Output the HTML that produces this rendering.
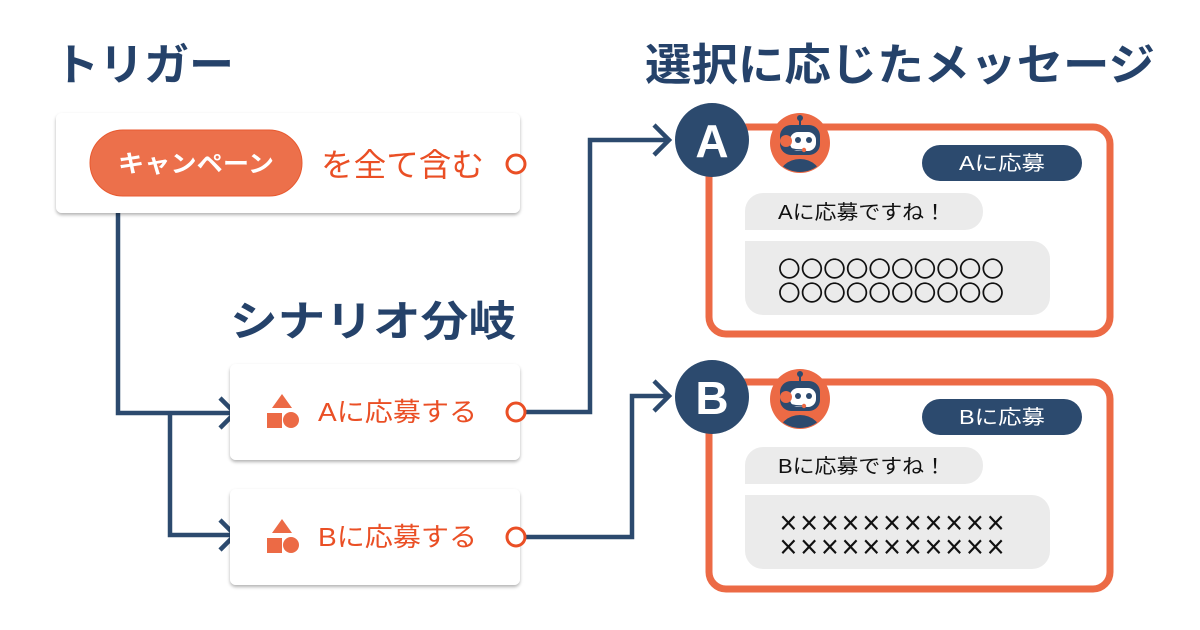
<!DOCTYPE html>
<html><head><meta charset="utf-8"><style>
html,body{margin:0;padding:0;background:#fff;width:1200px;height:630px;overflow:hidden}
svg{display:block}
text{font-family:"Liberation Sans","Noto Sans CJK JP",sans-serif}
.cjk{font-family:"Noto Sans CJK JP",sans-serif}
</style></head><body>
<svg width="1200" height="630" viewBox="0 0 1200 630" xmlns="http://www.w3.org/2000/svg">
<defs>
<filter id="sh" x="-5%" y="-10%" width="110%" height="130%"><feDropShadow dx="0" dy="2" stdDeviation="1.5" flood-color="#000" flood-opacity="0.3"/></filter>
<g id="robot">
<circle cx="0" cy="0" r="30" fill="#ec6a45"/>
<clipPath id="rc"><circle cx="0" cy="0" r="29"/></clipPath>
<g clip-path="url(#rc)">
<ellipse cx="0" cy="36" rx="22" ry="20" fill="#2c4a6e"/>
</g>
<line x1="0" y1="-24" x2="0" y2="-17" stroke="#2c4a6e" stroke-width="2"/>
<circle cx="0" cy="-25" r="3" fill="#2c4a6e"/>
<rect x="-20" y="-18" width="40" height="30" rx="11" fill="#2c4a6e"/>
<rect x="-10" y="-11" width="26" height="19" rx="8" fill="#fff"/>
<circle cx="-2" cy="-3" r="3" fill="#2c4a6e"/><circle cx="9" cy="-3" r="3" fill="#2c4a6e"/>
<circle cx="-14" cy="-2" r="6" fill="#ec6a45"/>
<path d="M-12 4 Q-8 7 3 7" stroke="#2c4a6e" stroke-width="1.4" fill="none"/>
<circle cx="4" cy="7" r="2.2" fill="#ec6a45"/>
</g>
<g id="shapes">
<polygon points="0,-16 10,-2 -10,-2" fill="#ec6a45"/>
<rect x="-15" y="3" width="15" height="15" fill="#ec6a45"/>
<circle cx="9" cy="10" r="8" fill="#ec6a45"/>
</g>
</defs>

<text x="54" y="80" font-size="44" font-weight="bold" fill="#25426a" textLength="180" lengthAdjust="spacingAndGlyphs">トリガー</text>
<text x="645" y="80" font-size="44" font-weight="bold" fill="#25426a" textLength="510" lengthAdjust="spacingAndGlyphs">選択に応じたメッセージ</text>
<text x="230" y="336" font-size="42" font-weight="bold" fill="#25426a" textLength="286" lengthAdjust="spacingAndGlyphs">シナリオ分岐</text>

<g stroke="#2c4a6e" stroke-width="4.5" fill="none">
<path d="M118 213 V413 H232"/>
<path d="M170 413 V535 H232"/>
<path d="M220 398 L235 413 L220 428"/>
<path d="M220 520 L235 535 L220 550"/>
<path d="M525 412 H590 V140 H668"/>
<path d="M525 537 H632 V396 H668"/>
<path d="M654 125 L669 140 L654 155"/>
<path d="M654 381 L669 396 L654 411"/>
</g>

<rect x="56" y="113" width="464" height="100" rx="6" fill="#fff" filter="url(#sh)"/>
<rect x="90" y="130" width="212" height="66" rx="33" fill="#ec704b" stroke="#e85a30" stroke-width="1"/>
<text x="196" y="172" font-size="24" font-weight="bold" fill="#fff" text-anchor="middle" textLength="156" lengthAdjust="spacingAndGlyphs">キャンペーン</text>
<text x="321" y="176" font-size="32" fill="#ea4f25" textLength="163" lengthAdjust="spacingAndGlyphs">を全て含む</text>
<circle cx="516" cy="164" r="9" fill="#fff" stroke="#ea4f25" stroke-width="3"/>

<rect x="230" y="364" width="290" height="96" rx="6" fill="#fff" filter="url(#sh)"/>
<use href="#shapes" x="282" y="410"/>
<text x="318" y="421" font-size="26" fill="#ea4f25" textLength="159" lengthAdjust="spacingAndGlyphs">Aに応募する</text>
<circle cx="516" cy="412" r="9" fill="#fff" stroke="#ea4f25" stroke-width="3"/>

<rect x="230" y="489" width="290" height="96" rx="6" fill="#fff" filter="url(#sh)"/>
<use href="#shapes" x="282" y="535"/>
<text x="318" y="546" font-size="26" fill="#ea4f25" textLength="159" lengthAdjust="spacingAndGlyphs">Bに応募する</text>
<circle cx="516" cy="537" r="9" fill="#fff" stroke="#ea4f25" stroke-width="3"/>

<rect x="709" y="127" width="401" height="207" rx="17" fill="#fff" stroke="#ec6a45" stroke-width="7"/>
<circle cx="712" cy="140" r="37" fill="#2c4a6e"/>
<text x="712" y="157" font-size="46" font-weight="bold" fill="#fff" text-anchor="middle">A</text>
<use href="#robot" x="800" y="143"/>
<rect x="922" y="145" width="160" height="36" rx="18" fill="#2c4a6e"/>
<text x="1002" y="170" font-size="20" fill="#fff" text-anchor="middle" textLength="86" lengthAdjust="spacingAndGlyphs">Aに応募</text>
<rect x="745" y="193" width="238" height="37" rx="18" fill="#ebebeb"/>
<rect x="745" y="212" width="18" height="18" fill="#ebebeb"/>
<text x="778" y="219" font-size="20" fill="#111" textLength="168" lengthAdjust="spacingAndGlyphs">Aに応募ですね！</text>
<rect x="745" y="241" width="305" height="74" rx="18" fill="#ebebeb"/>
<rect x="745" y="241" width="18" height="18" fill="#ebebeb"/>
<text class="cjk" x="778" y="277" font-size="22" fill="#111" textLength="226" lengthAdjust="spacingAndGlyphs">〇〇〇〇〇〇〇〇〇〇</text>
<text class="cjk" x="778" y="301" font-size="22" fill="#111" textLength="226" lengthAdjust="spacingAndGlyphs">〇〇〇〇〇〇〇〇〇〇</text>

<rect x="709" y="382" width="401" height="207" rx="17" fill="#fff" stroke="#ec6a45" stroke-width="7"/>
<circle cx="712" cy="397" r="37" fill="#2c4a6e"/>
<text x="712" y="414" font-size="46" font-weight="bold" fill="#fff" text-anchor="middle">B</text>
<use href="#robot" x="800" y="399"/>
<rect x="922" y="399" width="160" height="36" rx="18" fill="#2c4a6e"/>
<text x="1002" y="424" font-size="20" fill="#fff" text-anchor="middle" textLength="86" lengthAdjust="spacingAndGlyphs">Bに応募</text>
<rect x="745" y="447" width="238" height="37" rx="18" fill="#ebebeb"/>
<rect x="745" y="466" width="18" height="18" fill="#ebebeb"/>
<text x="778" y="473" font-size="20" fill="#111" textLength="168" lengthAdjust="spacingAndGlyphs">Bに応募ですね！</text>
<rect x="745" y="495" width="305" height="74" rx="18" fill="#ebebeb"/>
<rect x="745" y="495" width="18" height="18" fill="#ebebeb"/>
<text class="cjk" x="778" y="531" font-size="22" font-weight="bold" fill="#111" textLength="228" lengthAdjust="spacingAndGlyphs">×××××××××××</text>
<text class="cjk" x="778" y="555" font-size="22" font-weight="bold" fill="#111" textLength="228" lengthAdjust="spacingAndGlyphs">×××××××××××</text>
</svg>
</body></html>
